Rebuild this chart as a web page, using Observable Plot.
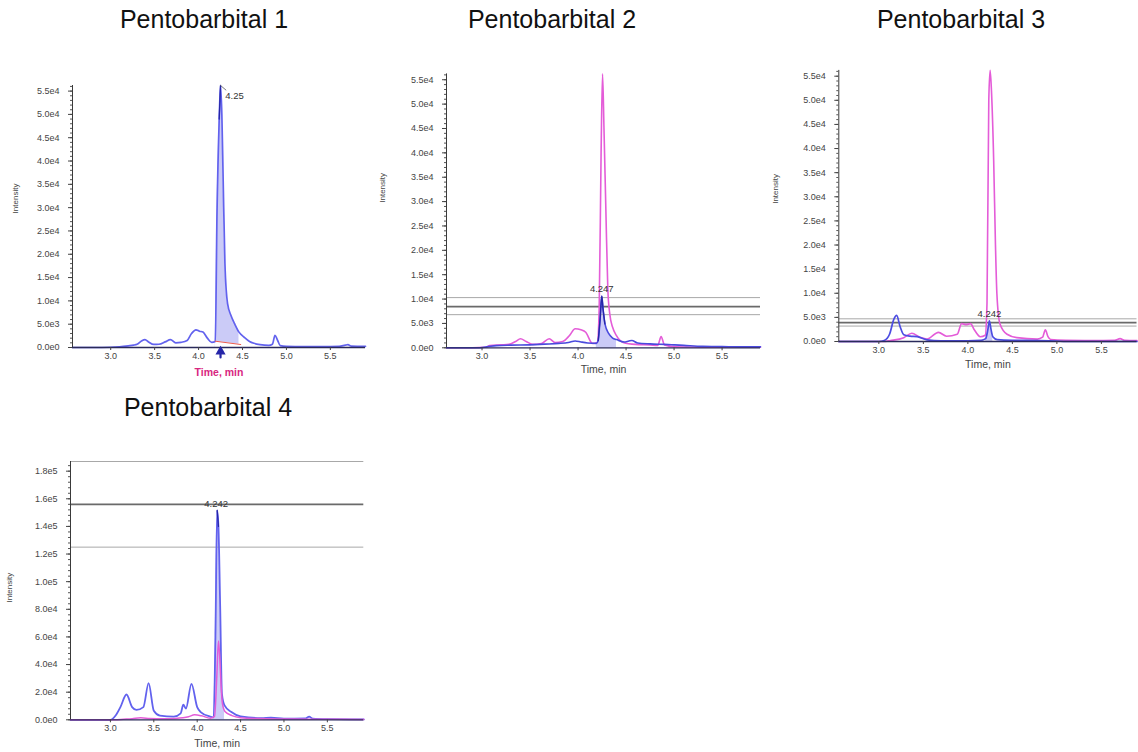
<!DOCTYPE html>
<html><head><meta charset="utf-8">
<script src="https://cdn.jsdelivr.net/npm/d3@7"></script>
<script src="https://cdn.jsdelivr.net/npm/@observablehq/plot@0.6"></script>
<style>
body{margin:0;width:1138px;height:752px;overflow:hidden;background:#fff;position:relative;font-family:"Liberation Sans",Arial,sans-serif}
.title{position:absolute;font-size:25px;line-height:25px;color:#111;white-space:nowrap;transform:translateX(-50%)}
.panel{position:absolute}
.panel svg{max-width:none;overflow:visible}
</style></head><body>
<div class="title" style="left:204px;top:7px">Pentobarbital 1</div>
<div class="title" style="left:552px;top:7px">Pentobarbital 2</div>
<div class="title" style="left:961px;top:7px">Pentobarbital 3</div>
<div class="title" style="left:208px;top:395px">Pentobarbital 4</div>
<script>
// ---- data (time in min, intensity in counts) ----
const xTicks = [3.0, 3.5, 4.0, 4.5, 5.0, 5.5];
const yTicksLow = [0, 5000, 10000, 15000, 20000, 25000, 30000, 35000, 40000, 45000, 50000, 55000];
const yTicksHigh = [0, 20000, 40000, 60000, 80000, 100000, 120000, 140000, 160000, 180000];

const p1Blue = [[2.565,0],[2.8,0],[3.0,50],[3.1,150],[3.2,350],[3.26,500],[3.3,700],[3.35,1400],[3.39,1700],[3.43,1200],[3.49,650],[3.55,700],[3.62,1200],[3.68,1700],[3.74,1000],[3.8,1100],[3.87,1500],[3.92,3000],[3.97,3800],[4.01,3500],[4.05,3300],[4.1,2000],[4.15,1100],[4.19,1300],[4.21,29000],[4.235,49000],[4.25,56200],[4.265,50000],[4.28,35800],[4.3,18000],[4.33,9400],[4.37,6800],[4.41,5100],[4.46,3300],[4.52,2200],[4.58,1300],[4.63,900],[4.7,600],[4.8,450],[4.84,700],[4.87,2600],[4.9,1500],[4.93,400],[5.0,250],[5.2,200],[5.4,200],[5.6,250],[5.67,500],[5.7,600],[5.74,300],[5.9,250]];
const p1Baseline = [[4.19,1350],[4.48,640]];
const p2Pink = [[2.63,0],[2.9,0],[3.04,100],[3.08,450],[3.2,600],[3.28,700],[3.35,1300],[3.4,1850],[3.46,1300],[3.53,700],[3.62,900],[3.7,1850],[3.76,1100],[3.84,1300],[3.91,2500],[3.97,3900],[4.03,3700],[4.08,3200],[4.15,900],[4.2,1100],[4.22,8000],[4.24,40000],[4.255,56200],[4.27,45000],[4.29,28000],[4.31,12000],[4.33,7000],[4.36,4200],[4.4,2500],[4.47,1100],[4.6,700],[4.75,600],[4.83,500],[4.865,2300],[4.9,600],[5.02,200],[5.2,150],[5.4,100],[5.6,150],[5.9,100]];
const p2Blue = [[2.63,0],[2.95,0],[3.05,200],[3.15,450],[3.3,550],[3.5,600],[3.65,750],[3.8,900],[3.9,1100],[3.97,1400],[4.03,1200],[4.1,1000],[4.19,900],[4.21,1500],[4.23,6000],[4.247,10600],[4.26,8000],[4.28,4900],[4.32,2900],[4.36,2000],[4.4,1700],[4.48,1200],[4.53,1400],[4.56,1500],[4.62,1000],[4.75,800],[4.9,700],[5.0,600],[5.1,500],[5.3,300],[5.5,250],[5.7,200],[5.9,200]];
const p2Levels = [10300, 8450, 6800];
const p3Pink = [[2.55,0],[3.05,0],[3.13,200],[3.28,800],[3.37,1700],[3.46,900],[3.54,500],[3.67,1900],[3.76,1100],[3.88,1500],[3.93,3700],[3.98,3500],[4.03,3700],[4.07,2500],[4.14,1000],[4.195,1300],[4.215,8000],[4.235,50000],[4.25,56200],[4.265,52000],[4.29,37500],[4.31,20000],[4.326,9900],[4.36,3700],[4.44,1500],[4.55,800],[4.78,500],[4.84,900],[4.87,2400],[4.9,1000],[4.93,400],[5.1,250],[5.4,200],[5.65,250],[5.71,600],[5.76,250],[5.9,200]];
const p3Blue = [[2.55,0],[3.0,0],[3.06,200],[3.12,1500],[3.17,4700],[3.2,5400],[3.24,3000],[3.28,1400],[3.35,1100],[3.43,1000],[3.54,350],[3.7,150],[4.0,150],[4.15,250],[4.2,600],[4.225,2500],[4.242,4300],[4.26,2500],[4.28,1000],[4.33,400],[4.5,250],[4.8,200],[5.0,100],[5.1,0],[5.9,0]];
const p3Levels = [4700, 3900, 3200];
const p4Blue = [[2.54,0],[3.0,0],[3.06,3100],[3.115,9200],[3.185,18300],[3.25,9200],[3.3,7200],[3.38,9200],[3.44,26500],[3.5,6600],[3.57,3100],[3.73,2300],[3.81,4700],[3.84,10900],[3.87,8100],[3.934,26000],[4.0,9200],[4.04,5600],[4.15,2300],[4.19,1700],[4.21,60000],[4.23,151600],[4.245,140000],[4.265,81500],[4.285,18800],[4.315,10400],[4.39,5800],[4.5,2500],[4.74,1200],[4.85,1500],[5.0,800],[5.25,1000],[5.29,2300],[5.33,900],[5.5,500],[5.92,300]];
const p4Pink = [[2.54,0],[3.05,0],[3.15,400],[3.25,800],[3.35,1400],[3.45,1000],[3.6,700],[3.75,1000],[3.9,2200],[3.97,3600],[4.05,2900],[4.15,1200],[4.2,2500],[4.225,30000],[4.245,57000],[4.26,45000],[4.275,25000],[4.29,12000],[4.32,6000],[4.4,3000],[4.5,1500],[4.7,900],[5.0,600],[5.3,400],[5.92,300]];
const p4Levels = [187000, 156000, 125000];

const BLUE = "#6262ee", NAVY = "#2626a8", PINK = "#e45cd8", FILL = "#c2c2f6", RED = "#ec5a4c";
const fmtY = d => d3.format(".1e")(d).replace("+", "");
const obj = a => a.map(([t, v]) => ({t, v}));
const between = (a, lo, hi) => obj(a).filter(d => d.t >= lo && d.t <= hi);

function panel(o) {
  const marks = [];
  if (o.fill) marks.push(Plot.areaY(between(o.fill.data, o.fill.from, o.fill.to), {x: "t", y: "v", fill: FILL, fillOpacity: 0.85, curve: "monotone-x"}));
  if (o.baseline) marks.push(Plot.areaY(obj(o.baseline), {x: "t", y: "v", fill: "white"}));
  if (o.levels) {
    marks.push(Plot.ruleY([o.levels[0], o.levels[2]], {stroke: "#a8a8a8", strokeWidth: 1}));
    marks.push(Plot.ruleY([o.levels[1]], {stroke: "#6a6a6a", strokeWidth: 1.8}));
  }
  for (const s of o.series) {
    marks.push(Plot.line(obj(s.data), {x: "t", y: "v", stroke: s.color, strokeWidth: s.width || 1.5, curve: "monotone-x"}));
  }
  if (o.apex) marks.push(Plot.line(between(o.apex.data, o.apex.from, o.apex.to), {x: "t", y: "v", stroke: NAVY, strokeWidth: 1.3, curve: "monotone-x"}));
  if (o.baseline) marks.push(Plot.line(obj(o.baseline), {x: "t", y: "v", stroke: RED, strokeWidth: 1}));
  // axes
  marks.push(Plot.ruleX([o.xDomain[0]], {stroke: "#3a3a3a", strokeWidth: 1}));
  marks.push(Plot.ruleY([0], {stroke: "#2a2a5a", strokeWidth: 1.3}));
  marks.push(Plot.axisY(d3.range(0, o.yDomain[1], o.yMinor), {tickSize: 2, tickFormat: () => "", stroke: "#555", label: null}));
  marks.push(Plot.axisY(o.yTicks, {tickSize: 4, tickPadding: 9, tickFormat: fmtY, stroke: "#444", fill: "#444", label: null}));
  marks.push(Plot.axisX(xTicks, {tickSize: 3, tickPadding: 2, tickFormat: d3.format(".1f"), stroke: "#444", fill: "#444", label: null}));
  marks.push(Plot.text(["Intensity"], {frameAnchor: "left", text: d => d, rotate: -90, dx: o.intDx, dy: o.intDy, textAnchor: "middle", lineAnchor: "middle", fontSize: 8, fill: "#444"}));
  marks.push(Plot.text(["Time, min"], {frameAnchor: "bottom", text: d => d, dy: o.timeDy, lineAnchor: "middle", textAnchor: "middle", fontSize: 10.5, fill: o.timeColor || "#444", fontWeight: o.timeBold ? "bold" : "normal"}));
  if (o.peak) marks.push(Plot.text([o.peak], {x: "t", y: "v", text: "label", dx: o.peak.dx, dy: o.peak.dy, fontSize: 9.5, fill: "#333", textAnchor: "middle", lineAnchor: "middle"}));
  if (o.arrow) {
    marks.push(Plot.vector([o.arrow], {x: "t", y: "v", length: 8, rotate: 0, anchor: "end", dy: 2, stroke: NAVY, strokeWidth: 2.2}));
    marks.push(Plot.dot([o.arrow], {x: "t", y: "v", symbol: "triangle", r: 2.8, dy: 4, fill: NAVY, stroke: NAVY}));
  }
  if (o.hook) marks.push(Plot.vector([o.hook], {x: "t", y: "v", length: 7, rotate: 130, anchor: "start", stroke: "#666", strokeWidth: 0.8, shape: {draw(ctx, l) { ctx.moveTo(0, 0); ctx.lineTo(0, -l); }}}));

  const svg = Plot.plot({
    width: o.width, height: o.height,
    marginLeft: o.mL, marginRight: o.mR, marginTop: o.mT, marginBottom: o.mB,
    x: {domain: o.xDomain},
    y: {domain: o.yDomain},
    style: {fontFamily: "'Liberation Sans', Arial, sans-serif", fontSize: "9px", color: "#444", background: "transparent", overflow: "visible"},
    marks
  });
  const div = document.createElement("div");
  div.className = "panel";
  div.style.left = o.left + "px";
  div.style.top = o.top + "px";
  div.style.width = o.width + "px";
  div.appendChild(svg);
  document.body.appendChild(div);
}

panel({
  left: 0, top: 60, width: 380, height: 330, mL: 72, mR: 15, mT: 25, mB: 43,
  xDomain: [2.565, 5.9], yDomain: [0, 56200], yTicks: yTicksLow, yMinor: 1000,
  fill: {data: p1Blue, from: 4.19, to: 4.48}, baseline: p1Baseline,
  series: [{data: p1Blue, color: BLUE, width: 1.7}],
  apex: {data: p1Blue, from: 4.22, to: 4.26},
  intDx: -57, intDy: -18, timeDy: 25, timeColor: "#d8267f", timeBold: true,
  peak: {t: 4.25, v: 56200, label: "4.25", dx: 14, dy: 10},
  hook: {t: 4.25, v: 56200},
  arrow: {t: 4.25, v: 0}
});
panel({
  left: 375, top: 55, width: 400, height: 330, mL: 71, mR: 15, mT: 18.4, mB: 37.7,
  xDomain: [2.63, 5.9], yDomain: [0, 56200], yTicks: yTicksLow, yMinor: 1000,
  fill: {data: p2Blue, from: 4.19, to: 4.46}, levels: p2Levels,
  series: [{data: p2Pink, color: PINK, width: 1.6}, {data: p2Blue, color: "#4a4ade", width: 1.6}],
  apex: {data: p2Blue, from: 4.21, to: 4.3},
  intDx: -64, intDy: -23, timeDy: 22,
  peak: {t: 4.247, v: 10600, label: "4.247", dx: 0, dy: -7.5}
});
panel({
  left: 770, top: 50, width: 372, height: 330, mL: 68.3, mR: 5.5, mT: 19.9, mB: 39,
  xDomain: [2.55, 5.9], yDomain: [0, 56200], yTicks: yTicksLow, yMinor: 1000,
  fill: {data: p3Blue, from: 4.2, to: 4.3}, levels: p3Levels,
  series: [{data: p3Pink, color: PINK, width: 1.6}, {data: p3Blue, color: "#4d4de2", width: 1.7}],
  intDx: -63, intDy: -17, timeDy: 23,
  peak: {t: 4.242, v: 4300, label: "4.242", dx: 0, dy: -6.5}
});
panel({
  left: 0, top: 440, width: 380, height: 312, mL: 70, mR: 16.7, mT: 21, mB: 32.7,
  xDomain: [2.54, 5.92], yDomain: [0, 187000], yTicks: yTicksHigh, yMinor: 4000,
  fill: {data: p4Blue, from: 4.19, to: 4.33}, levels: p4Levels,
  series: [{data: p4Blue, color: BLUE, width: 1.8}, {data: p4Pink, color: PINK, width: 1.5}],
  apex: {data: p4Blue, from: 4.215, to: 4.26},
  intDx: -60.7, intDy: -3, timeDy: 24,
  peak: {t: 4.242, v: 156000, label: "4.242", dx: -2, dy: 0}
});
</script>
</body></html>
